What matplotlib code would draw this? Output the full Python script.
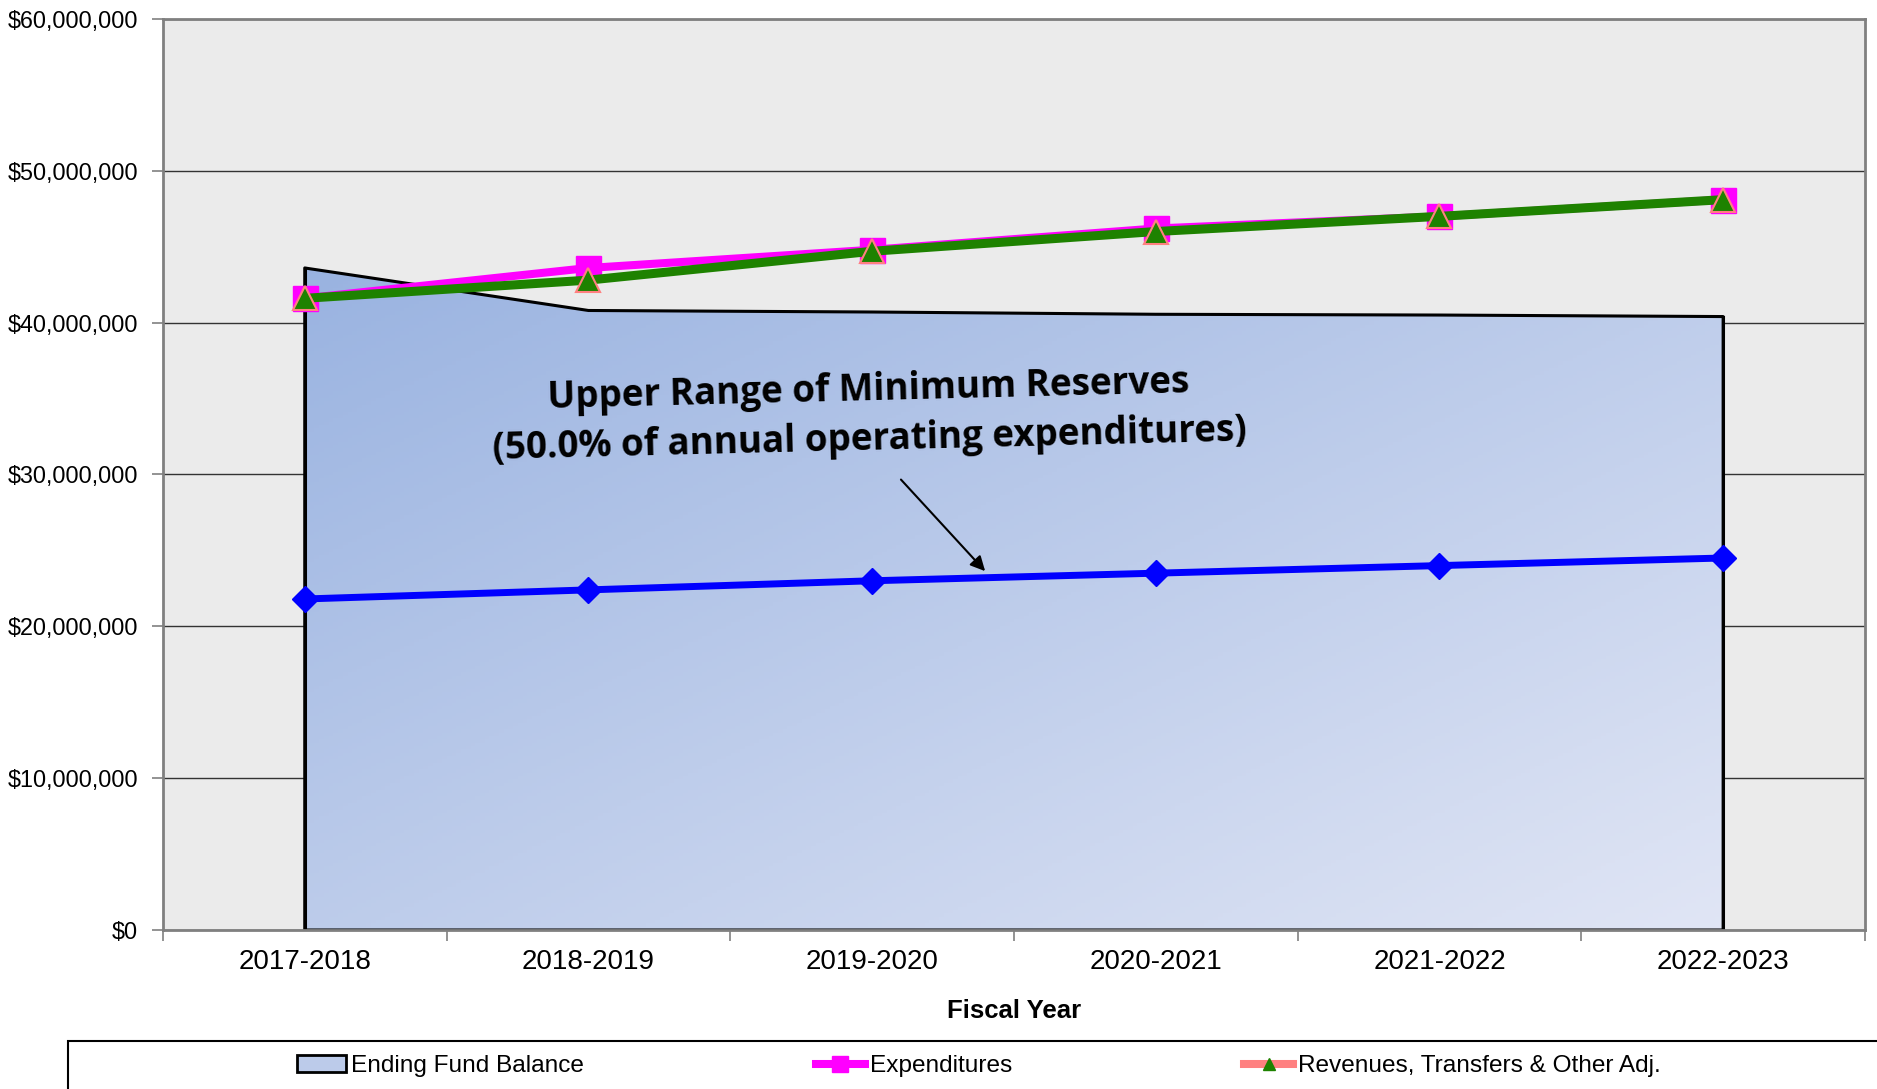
import numpy as np
import matplotlib
matplotlib.use("Agg")
from matplotlib import pyplot as plt
from matplotlib.patches import Rectangle, Patch
from matplotlib.lines import Line2D
from matplotlib.ticker import FuncFormatter, FixedLocator

years = ["2017-2018", "2018-2019", "2019-2020", "2020-2021", "2021-2022", "2022-2023"]
fund_balance = [43.6e6, 40.8e6, 40.7e6, 40.55e6, 40.5e6, 40.4e6]
expenditures = [41.6e6, 43.6e6, 44.8e6, 46.2e6, 47.0e6, 48.1e6]
revenues = [41.6e6, 42.8e6, 44.7e6, 46.0e6, 47.0e6, 48.1e6]
min_reserve = [21.8e6, 22.4e6, 23.0e6, 23.5e6, 24.0e6, 24.5e6]

plt.rcParams['font.family'] = ['Liberation Sans', 'DejaVu Sans']

fig = plt.figure(figsize=(18.77, 10.89), dpi=100)
ax = fig.add_axes([0.0868, 0.146, 0.9068, 0.8366])
ax.set_facecolor('#ebebeb')

x = np.arange(len(years))
ax.set_xlim(-0.5, len(years) - 0.5)
ax.set_ylim(0, 60e6)

ax.set_yticks(np.arange(0, 60e6 + 1, 10e6))
ax.yaxis.set_major_formatter(FuncFormatter(lambda v, p: "${:,.0f}".format(v)))
ax.grid(axis='y', color='#333333', linewidth=1.0, zorder=0)
ax.set_axisbelow(True)

# category boundary ticks, labels centred between them
ax.xaxis.set_major_locator(FixedLocator(np.arange(-0.5, len(years), 1.0)))
ax.xaxis.set_minor_locator(FixedLocator(x))
ax.set_xticklabels([], minor=False)
ax.set_xticklabels(years, minor=True)
ax.tick_params(axis='x', which='major', length=8, width=1.2, color='#808080')
ax.tick_params(axis='x', which='minor', length=0, labelsize=20, pad=14)
ax.tick_params(axis='y', length=8, width=1.2, color='#808080', labelsize=16.8, pad=10)

for s in ax.spines.values():
    s.set_color('#808080')
    s.set_linewidth(2)

# ending fund balance area with diagonal gradient
area = ax.fill_between(x, 0, fund_balance, facecolor='none', edgecolor='black',
                       linewidth=2.2, zorder=2)
gx, gy = np.meshgrid(np.linspace(0, 1, 300), np.linspace(0, 1, 200))
t = (gx + gy) / 2
c0 = np.array([0.60, 0.70, 0.88])
c1 = np.array([0.88, 0.90, 0.96])
img = c0[None, None, :] * (1 - t[..., None]) + c1[None, None, :] * t[..., None]
im = ax.imshow(img, extent=[0, 5, 0, 44e6], origin='upper', aspect='auto', zorder=1.5)
im.set_clip_path(area.get_paths()[0], transform=ax.transData)
ax.plot([0, 0], [0, fund_balance[0]], color='black', lw=2.2, zorder=2.1)
ax.plot([5, 5], [0, fund_balance[-1]], color='black', lw=2.2, zorder=2.1)

ax.plot(x, expenditures, color='#ff00ff', lw=5.8, marker='s', ms=18,
        mfc='#ff00ff', mec='#ff00ff', zorder=4)
ax.plot(x, revenues, color='#1e8200', lw=6.5, marker='^', ms=17,
        mfc='#1e8200', mec='#ff8080', mew=1.5, zorder=5)
ax.plot(x, min_reserve, color='#0000ff', lw=5, marker='D', ms=13,
        mfc='#0000ff', mec='#0000ff', zorder=4)

ax.text(1.99, 33.9e6, "Upper Range of Minimum Reserves\n(50.0% of annual operating expenditures)",
        ha='center', va='center', fontsize=26.5, fontweight='bold', family='Open Sans',
        rotation=1.4, linespacing=1.4, zorder=6, rotation_mode='anchor')
ax.annotate("", xy=(2.405, 23.5e6), xytext=(2.095, 29.8e6),
            arrowprops=dict(arrowstyle='-|>', color='black', lw=1.5, mutation_scale=22),
            zorder=6)

ax.set_xlabel("Fiscal Year", fontsize=18.5, fontweight='bold', labelpad=17)

# legend box at bottom
fig.patches.append(Rectangle((68 / 1877, -0.02), 1.0, 48 / 1089 + 0.02,
                             transform=fig.transFigure,
                             facecolor='white', edgecolor='black', linewidth=1.5))
handles = [
    Patch(facecolor='#bccbea', edgecolor='black', linewidth=2),
    Line2D([], [], color='#ff00ff', lw=5.8, marker='s', ms=12, mfc='#ff00ff', mec='#ff00ff'),
    Line2D([], [], color='#ff8080', lw=5.8, marker='^', ms=8, mfc='#1e8200', mec='#1e8200'),
]
labels = ["Ending Fund Balance", "Expenditures", "Revenues, Transfers & Other Adj."]
fig.legend(handles, labels, loc='center left', bbox_to_anchor=(297 / 1877, 0.021),
           ncol=3, frameon=False, fontsize=17.6, handlelength=2.0, handletextpad=0.2,
           columnspacing=9.5, borderpad=0, borderaxespad=0)

fig.savefig("out.png", dpi=100)
